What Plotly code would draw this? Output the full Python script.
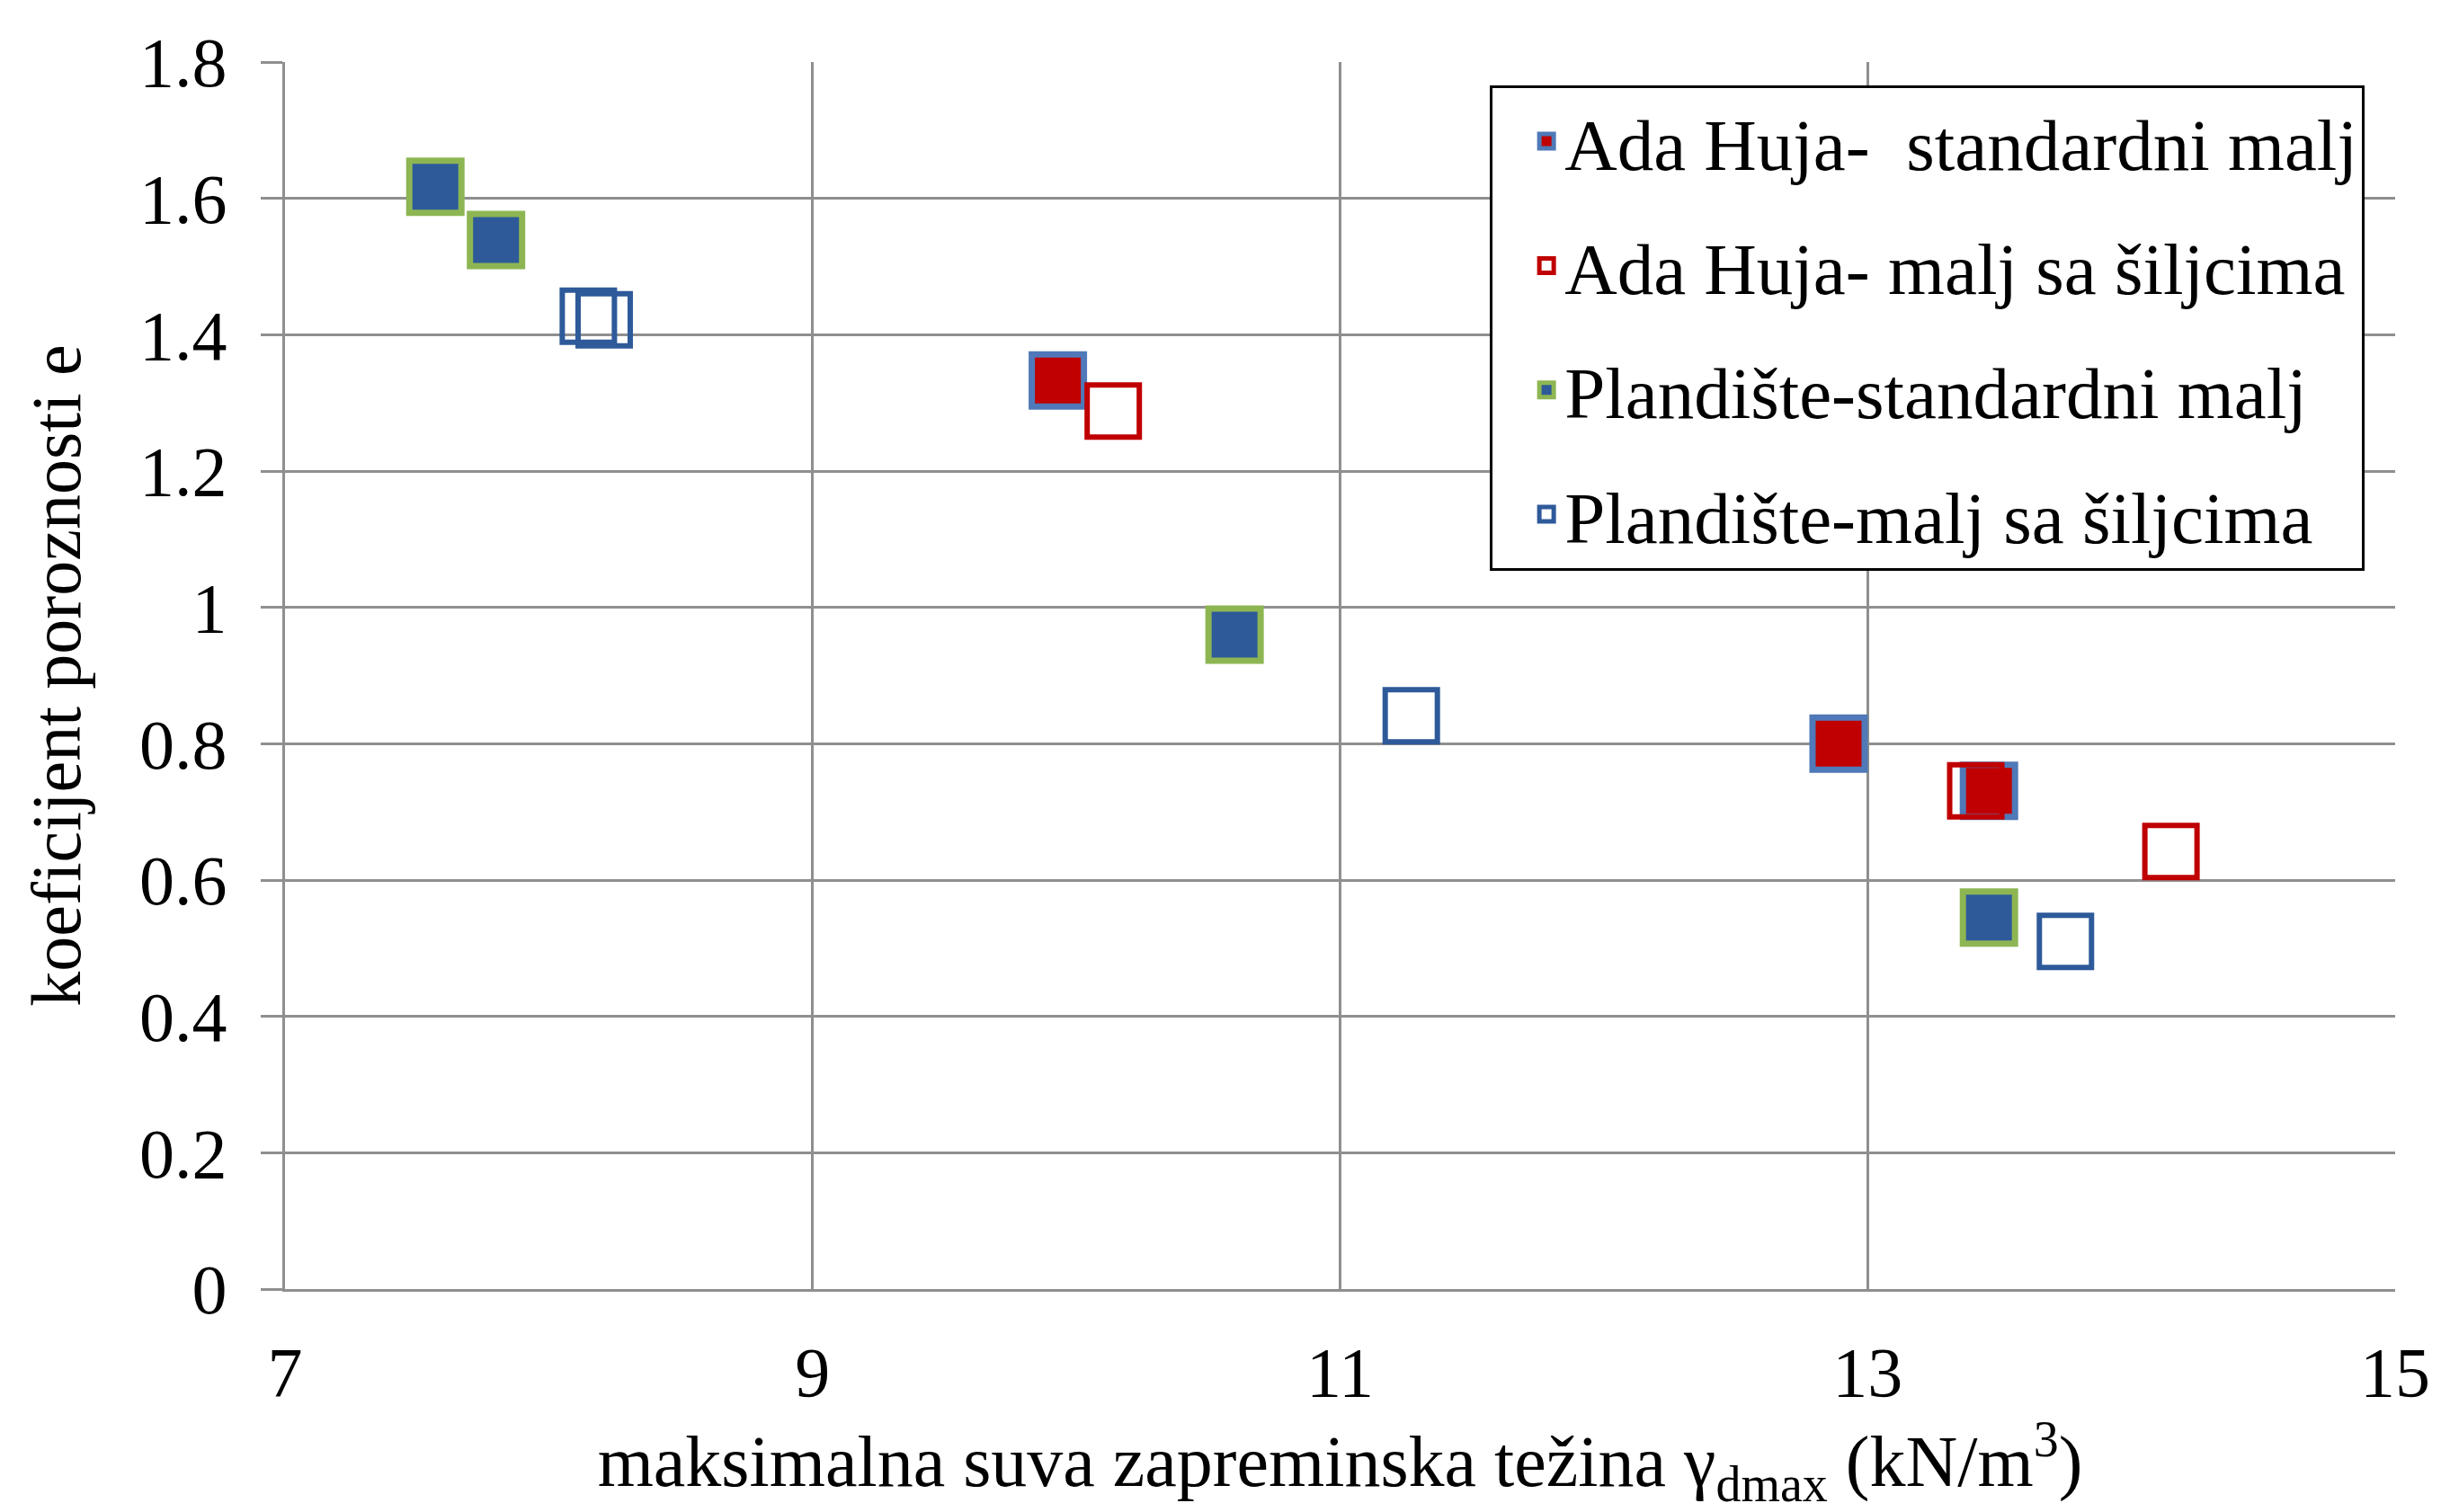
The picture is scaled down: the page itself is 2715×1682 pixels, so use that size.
import plotly.graph_objects as go

# Ada Huja – standard hammer
ada_std_x = [9.93, 12.89, 13.46]
ada_std_y = [1.333, 0.800, 0.731]
# Ada Huja – spiked hammer
ada_spk_x = [10.14, 13.41, 14.15]
ada_spk_y = [1.288, 0.731, 0.642]
# Plandište – standard hammer
pl_std_x = [7.57, 7.80, 10.60, 13.46]
pl_std_y = [1.617, 1.539, 0.960, 0.545]
# Plandište – spiked hammer
pl_spk_x = [8.15, 8.21, 11.27, 13.75]
pl_spk_y = [1.427, 1.422, 0.841, 0.510]

series_names = [
    "Ada Huja-\u00a0 standardni malj",
    "Ada Huja- malj sa šiljcima",
    "Plandište-standardni malj",
    "Plandište-malj sa šiljcima",
]

x_ticks = [7, 9, 11, 13, 15]
y_ticks = [0, 0.2, 0.4, 0.6, 0.8, 1, 1.2, 1.4, 1.6, 1.8]

RED = "#C00000"
BLUE = "#2E5A9A"
LIGHT_BLUE = "#4F79B8"
GREEN = "#8DB653"
GRID = "#8f8f8f"
FONT = "Liberation Serif"
MSIZE = 58

fig = go.Figure()

series = [
    (ada_std_x, ada_std_y, RED, LIGHT_BLUE, 7),
    (ada_spk_x, ada_spk_y, "rgba(0,0,0,0)", RED, 6),
    (pl_std_x, pl_std_y, BLUE, GREEN, 7),
    (pl_spk_x, pl_spk_y, "rgba(0,0,0,0)", BLUE, 6),
]

for i, (xs, ys, fill, edge, lw) in enumerate(series):
    fig.add_trace(go.Scatter(
        x=xs, y=ys, mode="markers", name=series_names[i],
        legendgroup=f"g{i}",
        marker=dict(symbol="square", size=MSIZE, color=fill,
                    line=dict(color=edge, width=lw)),
    ))

fig.update_layout(
    width=2715, height=1682, autosize=False,
    margin=dict(l=317, r=49, t=69, b=248, pad=0),
    paper_bgcolor="white", plot_bgcolor="white",
    font=dict(family=FONT, size=78, color="black"),
    showlegend=True,
    legend=dict(
        x=0.571, y=0.981, xanchor="left", yanchor="top",
        bgcolor="white", bordercolor="black", borderwidth=3,
        font=dict(family=FONT, size=81, color="black"),
        traceorder="grouped", tracegroupgap=30,
        indentation=40,
    ),
    xaxis=dict(
        range=[7, 15], tickvals=x_ticks, ticktext=[str(v) for v in x_ticks],
        showgrid=True, gridcolor=GRID, gridwidth=3,
        showline=True, linecolor=GRID, linewidth=3,
        ticks="", ticklabelstandoff=22, zeroline=False,
        tickfont=dict(family=FONT, size=78, color="black"),
        title=dict(
            text="maksimalna suva zapreminska težina γ<sub>dmax</sub> (kN/m<sup>3</sup>)",
            font=dict(family=FONT, size=80, color="black"), standoff=36,
        ),
    ),
    yaxis=dict(
        range=[0, 1.8], tickvals=y_ticks,
        ticktext=[f"{v:g}" for v in y_ticks],
        showgrid=True, gridcolor=GRID, gridwidth=3,
        showline=True, linecolor=GRID, linewidth=3,
        ticks="outside", ticklen=24, tickwidth=3, tickcolor=GRID,
        ticklabelstandoff=22, zeroline=False,
        tickfont=dict(family=FONT, size=78, color="black"),
        title=dict(
            text="koeficijent poroznosti e",
            font=dict(family=FONT, size=78, color="black"), standoff=40,
        ),
    ),
)

fig.write_html("out.html")
